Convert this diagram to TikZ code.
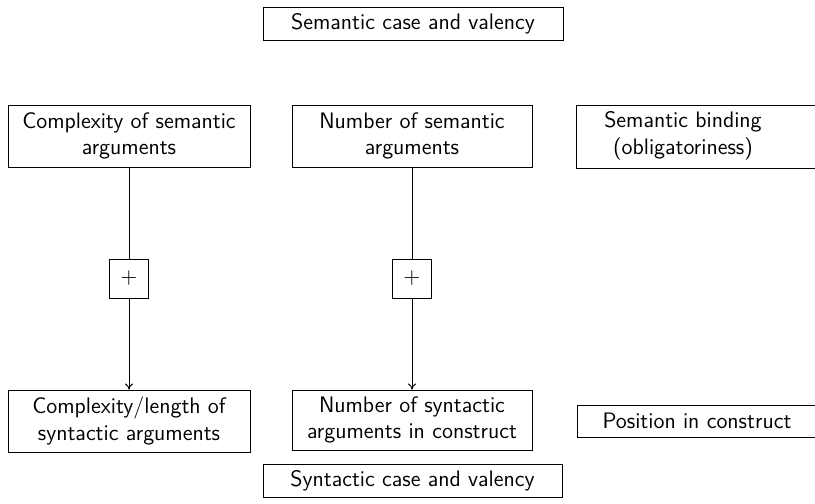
\documentclass[tikz,border=0pt]{standalone}
\usetikzlibrary{arrows.meta}
\begin{document}
\begin{tikzpicture}[x=0.5pt,y=-0.5pt,
  every node/.style={font=\sffamily\fontsize{11.2}{13.2}\selectfont},
  box/.style={draw, line width=0.5pt, align=center, inner sep=0pt, minimum height=31pt},
  plusbox/.style={draw, line width=0.5pt, minimum size=19.5pt, inner sep=0pt},
  link/.style={line width=0.5pt},
  arr/.style={line width=0.5pt, -{To[length=3pt,width=4pt]}}]
\useasboundingbox (0,0) rectangle (815,504);
\node[box, minimum width=150pt, minimum height=16.5pt] (top) at (413,23.5) {Semantic case and valency};
\node[box, minimum width=121pt] (cs) at (129,136) {Complexity of semantic\\arguments};
\node[box, minimum width=120pt] (ns) at (412,136) {Number of semantic\\arguments};
\node[box, minimum width=121pt, minimum height=31.5pt] (sb) at (697,136.5) {};
\node[align=center, inner sep=0pt] (sbt) at (683,136) {Semantic binding\\(obligatoriness)};
\node[plusbox] (p1) at (129,278.5) {$+$};
\node[plusbox] (p2) at (412,278.5) {$+$};
\node[box, minimum width=121pt] (cl) at (129,421) {Complexity/length of\\syntactic arguments};
\node[box, minimum width=120pt, minimum height=30pt] (nsy) at (412,420) {Number of syntactic\\arguments in construct};
\node[box, minimum width=120pt, minimum height=16pt] (pos) at (697,421) {Position in construct};
\node[box, minimum width=149.5pt, minimum height=16.5pt] (bot) at (412.5,480.5) {Syntactic case and valency};
\draw[link] (cs) -- (p1);
\draw[arr] (p1) -- (cl);
\draw[link] (ns) -- (p2);
\draw[arr] (p2) -- (nsy);
\end{tikzpicture}
\end{document}
